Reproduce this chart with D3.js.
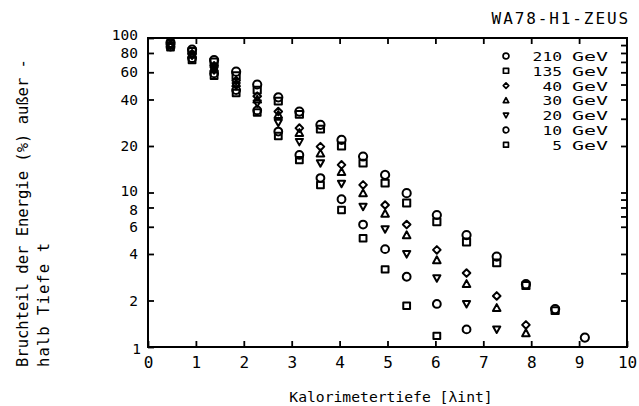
<!DOCTYPE html>
<html><head><meta charset="utf-8">
<script src="https://cdn.jsdelivr.net/npm/d3@7"></script>
<style>
html,body{margin:0;padding:0;background:#fff;}
svg{display:block;font-family:"DejaVu Sans Mono",monospace;}
text{fill:#000;}
</style></head>
<body>
<svg id="c" width="639" height="406"></svg>
<script>
// Depth (lambda_int) of each measured column
const depth = [0.47, 0.92, 1.38, 1.84, 2.28, 2.72, 3.16, 3.60, 4.04, 4.49, 4.95, 5.40, 6.03, 6.65, 7.28, 7.89, 8.50, 9.12];
// Energy fraction (%) beyond depth t, per beam energy
const e210 = [93, 84, 72, 60.5, 50, 41.3, 33.4, 27.4, 21.9, 17.1, 13.0, 9.9, 7.15, 5.3, 3.84, 2.55, 1.76, 1.15];
const e135 = [92, 82, 70, 57, 46, 39, 32.0, 25.7, 20.0, 15.5, 11.5, 8.55, 6.45, 4.78, 3.5, 2.5, 1.72, null];
const e40  = [91, 79, 66, 53, 42, 33.4, 26.1, 19.8, 15.1, 11.2, 8.3, 6.2, 4.25, 3.01, 2.14, 1.39, null, null];
const e30  = [90, 78, 64, 51, 40, 31.8, 24.3, 17.9, 13.6, 9.9, 7.3, 5.3, 3.65, 2.56, 1.79, 1.23, null, null];
const e20  = [89, 77, 62, 49, 37.8, 28.3, 21.3, 15.5, 11.4, 8.1, 5.8, 4.0, 2.79, 1.9, 1.30, null, null, null];
const e10  = [88, 74, 59, 46, 34, 24.8, 17.5, 12.4, 9.04, 6.2, 4.3, 2.85, 1.9, 1.30, null, null, null, null];
const e5   = [87, 72, 57, 44, 32.9, 23.2, 16.2, 11.2, 7.7, 5.06, 3.18, 1.85, 1.18, null, null, null, null, null];

const seriesNames = ["210", "135", "40", "30", "20", "10", "5"];
const seriesShapes = ["circleL", "square", "diamond", "triUp", "triDown", "circle", "squareS"];
const seriesValues = [e210, e135, e40, e30, e20, e10, e5];

const xTicks = [0,1,2,3,4,5,6,7,8,9,10];
const yTickLabels = [1,2,4,6,8,10,20,40,60,80,100];
const yRightTicks = [2,3,4,6,7,8,9,10,20,30,40,50,60,70,80,90];

const title = "WA78-H1-ZEUS";
const xTitle = "Kalorimetertiefe [\u03bbint]";
const yTitle1 = "Bruchteil der Energie (%) au\u00dfer -";
const yTitle2 = "halb Tiefe t";

const svg = d3.select("#c");
const L = 148, R = 627, T = 38, B = 347;
const x = d3.scaleLinear().domain([0,10]).range([L,R]);
const y = d3.scaleLog().domain([1,100]).range([B,T]);

// frame
svg.append("rect").attr("x",L).attr("y",T).attr("width",R-L).attr("height",B-T)
  .attr("fill","none").attr("stroke","#000").attr("stroke-width",2);

// axes
const gB = svg.append("g").attr("transform",`translate(0,${B})`)
  .call(d3.axisBottom(x).tickValues(xTicks).tickSize(-6).tickPadding(10).tickFormat(d3.format("d")));
const gT = svg.append("g").attr("transform",`translate(0,${T})`)
  .call(d3.axisTop(x).tickValues(xTicks.slice(1,10)).tickSize(-6).tickFormat(""));
const gL = svg.append("g").attr("transform",`translate(${L},0)`)
  .call(d3.axisLeft(y).tickValues(yTickLabels).tickSize(-6).tickPadding(10).tickFormat(d3.format("d")));
const gR = svg.append("g").attr("transform",`translate(${R},0)`)
  .call(d3.axisRight(y).tickValues(yRightTicks).tickSize(-6).tickFormat(""));
[gB,gT,gL,gR].forEach(g=>{
  g.select(".domain").remove();
  g.selectAll(".tick line").attr("stroke","#000").attr("stroke-width",1.8);
  g.selectAll("text").attr("fill","#000").style("font-family","DejaVu Sans Mono");
});
gB.selectAll("text").style("font-size","16px");
gL.selectAll("text").style("font-size","14.5px");
gL.selectAll(".tick").filter(d=>d===100).select("text").attr("dy","0.08em");
gL.selectAll(".tick").filter(d=>d===10).select("text").attr("dy","0.22em");
gL.selectAll(".tick").filter(d=>d===8).select("text").attr("dy","0.5em");
gL.selectAll(".tick").filter(d=>d===1).select("text").attr("dy","0.42em").attr("x",-7);

// markers
function shapePath(s, cx, cy, k) {
  k = k || 1;
  const p = d3.path();
  if (s === "circleL") { const r=4.1*k; p.moveTo(cx+r,cy); p.arc(cx,cy,r,0,2*Math.PI); }
  else if (s === "circle") { const r=3.9*k; p.moveTo(cx+r,cy); p.arc(cx,cy,r,0,2*Math.PI); }
  else if (s === "square" || s === "squareS") { const h=(s==="square"?3.6:3.4)*k; p.rect(cx-h,cy-h*0.95,2*h,1.9*h); }
  else if (s === "diamond") { const h=3.8*k; p.moveTo(cx,cy-h); p.lineTo(cx+h,cy); p.lineTo(cx,cy+h); p.lineTo(cx-h,cy); p.closePath(); }
  else if (s === "triUp") { const h=3.8*k; p.moveTo(cx,cy-h); p.lineTo(cx+h,cy+h*0.8); p.lineTo(cx-h,cy+h*0.8); p.closePath(); }
  else if (s === "triDown") { const h=3.6*k; p.moveTo(cx,cy+h); p.lineTo(cx+h,cy-h*0.8); p.lineTo(cx-h,cy-h*0.8); p.closePath(); }
  return p.toString();
}

seriesValues.forEach((vals, si) => {
  const pts = depth.map((d,i)=>({d, v: vals[i]})).filter(p=>p.v!=null);
  svg.append("g").selectAll("path").data(pts).join("path")
    .attr("d", p => shapePath(seriesShapes[si], x(p.d), y(p.v)))
    .attr("fill","none").attr("stroke","#000").attr("stroke-width",2)
    .attr("stroke-linejoin","round");
});

// legend
const lg = svg.append("g");
seriesNames.forEach((n,i)=>{
  const cy = 56 + i*14.8;
  lg.append("path").attr("d", shapePath(seriesShapes[i], 506, cy, 0.72))
    .attr("fill","none").attr("stroke","#000").attr("stroke-width",1.7).attr("stroke-linejoin","round");
  lg.append("text").attr("x",562).attr("y",cy+5).attr("text-anchor","end")
    .style("font-size","12.6px").attr("textLength", n.length*9.8).attr("lengthAdjust","spacingAndGlyphs").text(n);
  lg.append("text").attr("x",572).attr("y",cy+5).style("font-size","12.6px")
    .attr("textLength", 36).attr("lengthAdjust","spacingAndGlyphs").text("GeV");
});

// title
svg.append("text").attr("x",630).attr("y",24).attr("text-anchor","end")
  .style("font-size","16px").style("letter-spacing","1.9px").text(title);

// axis titles
svg.append("text").attr("x",391).attr("y",402).attr("text-anchor","middle")
  .style("font-size","14.7px").text(xTitle);
svg.append("text").attr("transform","translate(27.5,367) rotate(-90)")
  .style("font-size","15.5px").text(yTitle1);
svg.append("text").attr("transform","translate(48.5,367) rotate(-90)")
  .style("font-size","15.5px").attr("textLength",124).attr("lengthAdjust","spacing").text(yTitle2);
</script>
</body></html>
